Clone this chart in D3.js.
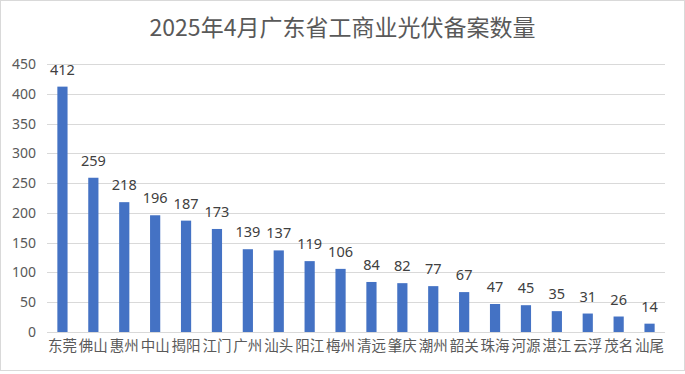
<!DOCTYPE html>
<html>
<head>
<meta charset="utf-8">
<script src="https://cdn.jsdelivr.net/npm/d3@7"></script>
<style>
	body { margin: 0; background: #fff; }
	svg { display: block; font-family: "Noto Sans CJK SC", "Noto Sans", sans-serif; }
</style>
</head>
<body>
<svg id="chart" width="685" height="374"></svg>
<script>
// Data
const titleText = "2025年4月广东省工商业光伏备案数量";
const cities = ["东莞", "佛山", "惠州", "中山", "揭阳", "江门", "广州", "汕头", "阳江", "梅州",
	"清远", "肇庆", "潮州", "韶关", "珠海", "河源", "湛江", "云浮", "茂名", "汕尾"];
const counts = [412, 259, 218, 196, 187, 173, 139, 137, 119, 106, 84, 82, 77, 67, 47, 45, 35, 31, 26, 14];
const yTicks = [0, 50, 100, 150, 200, 250, 300, 350, 400, 450];

const svg = d3.select("#chart");
const width = +svg.attr("width");
const height = +svg.attr("height");
const margin = { top: 64, right: 20, bottom: 42, left: 47 };

// outer frame
svg.append("rect")
	.attr("x", 0.5).attr("y", 0.5)
	.attr("width", width - 1).attr("height", height - 4)
	.attr("fill", "#fff")
	.attr("stroke", "#d9d9d9");

svg.append("text")
	.attr("x", width / 2)
	.attr("y", 36)
	.attr("text-anchor", "middle")
	.attr("fill", "#595959")
	.style("font-size", "23px")
	.text(titleText);

const x = d3.scaleBand()
	.domain(cities)
	.range([margin.left, width - margin.right])
	.paddingInner(0.67)
	.paddingOuter(0.335);

const y = d3.scaleLinear()
	.domain([0, 450])
	.range([height - margin.bottom, margin.top]);

// gridlines
svg.append("g")
	.selectAll("line")
	.data(yTicks)
	.join("line")
	.attr("x1", margin.left)
	.attr("x2", width - margin.right)
	.attr("y1", (d) => Math.round(y(d)) + 0.5)
	.attr("y2", (d) => Math.round(y(d)) + 0.5)
	.attr("stroke", "#d9d9d9");

// y axis labels
const yAxis = svg.append("g")
	.attr("transform", `translate(${margin.left - 11},0)`)
	.call(d3.axisLeft(y).tickValues(yTicks).tickSize(0).tickPadding(0));
yAxis.select(".domain").remove();
yAxis.selectAll("text")
	.attr("fill", "#595959")
	.style("font-size", "14px")
	.style("font-family", "'Noto Sans', sans-serif");

// bars
svg.append("g")
	.selectAll("rect")
	.data(counts)
	.join("rect")
	.attr("x", (d, i) => x(cities[i]))
	.attr("y", (d) => y(d))
	.attr("width", x.bandwidth())
	.attr("height", (d) => y(0) - y(d))
	.attr("fill", "#4472c4");

// value labels
svg.append("g")
	.selectAll("text")
	.data(counts)
	.join("text")
	.attr("x", (d, i) => x(cities[i]) + x.bandwidth() / 2)
	.attr("y", (d) => y(d) - 12)
	.attr("text-anchor", "middle")
	.attr("fill", "#404040")
	.style("font-size", "14.5px")
	.style("font-family", "'Noto Sans', sans-serif")
	.text((d) => d);

// category labels
const xAxis = svg.append("g")
	.attr("transform", `translate(0,${y(0)})`)
	.call(d3.axisBottom(x).tickSize(0).tickPadding(9));
xAxis.select(".domain").remove();
xAxis.selectAll("text")
	.attr("fill", "#595959")
	.style("font-size", "14.5px")
	.style("font-family", "'Noto Sans CJK SC', sans-serif");
</script>
</body>
</html>
